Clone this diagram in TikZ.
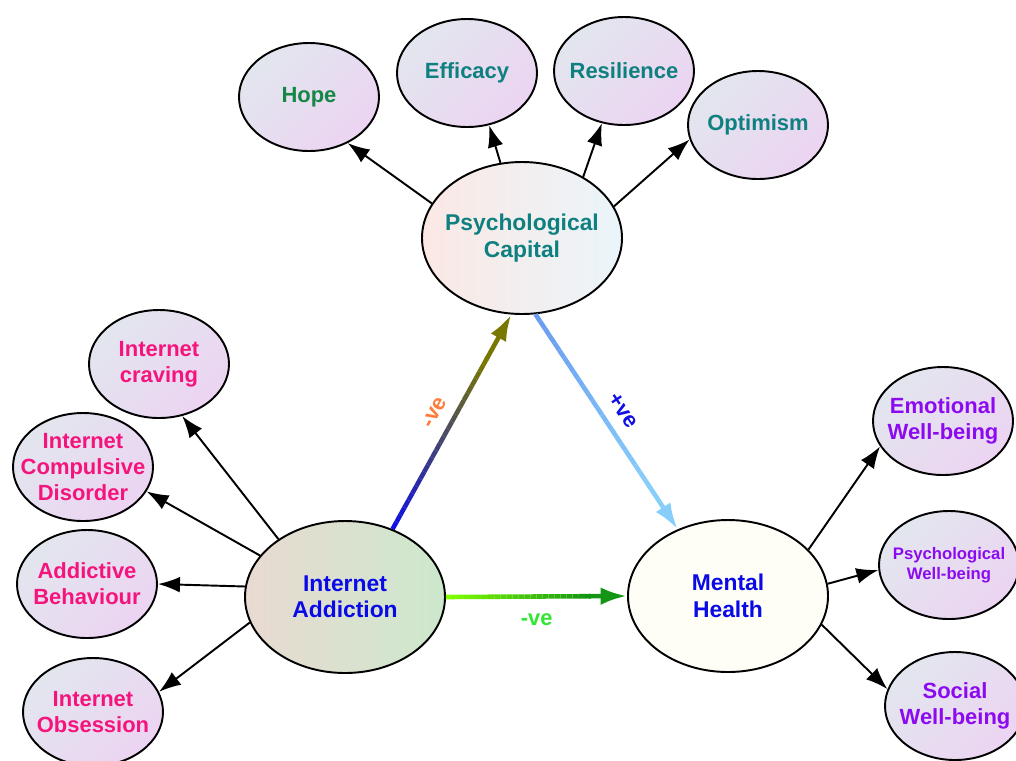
\documentclass[tikz,border=0pt]{standalone}
\usepackage{fontspec}
\setmainfont{Liberation Sans}
\usepackage{tikz}
\usetikzlibrary{shapes.geometric}
\usetikzlibrary{calc}
\usetikzlibrary{arrows.meta}
\definecolor{satgrey}{RGB}{226, 230, 238}
\definecolor{satpink}{RGB}{236, 212, 242}
\definecolor{pcpink}{RGB}{251, 232, 228}
\definecolor{pcblue}{RGB}{234, 245, 250}
\definecolor{iabeige}{RGB}{233, 218, 210}
\definecolor{iagreen}{RGB}{204, 232, 204}
\definecolor{mhwhite}{RGB}{254, 254, 247}
\definecolor{hopegreen}{RGB}{20, 135, 70}
\definecolor{capteal}{RGB}{15, 128, 128}
\definecolor{netpink}{RGB}{245, 20, 125}
\definecolor{hubblue}{RGB}{10, 10, 230}
\definecolor{wellpurple}{RGB}{140, 10, 240}
\definecolor{linkblue}{RGB}{15, 15, 230}
\definecolor{linkolive}{RGB}{120, 120, 0}
\definecolor{skytop}{RGB}{105, 155, 240}
\definecolor{skybot}{RGB}{135, 206, 250}
\definecolor{limeline}{RGB}{128, 255, 0}
\definecolor{darkline}{RGB}{20, 150, 20}
\definecolor{negorange}{RGB}{255, 125, 60}
\definecolor{neggreen}{RGB}{50, 230, 50}
\newcommand{\hubbold}{\bfseries\fontsize{13}{15}\selectfont}
\newcommand{\bigbold}{\bfseries\fontsize{12.5}{14.8}\selectfont}
\newcommand{\smallbold}{\bfseries\fontsize{9.5}{11.5}\selectfont}
% thick connector whose colour runs from #3 to #4
\newcommand{\gradline}[4]{%
    \foreach \k in {0,...,23}{
        \pgfmathtruncatemacro\share{100-\k*100/23}
        \draw[line width=2.6pt, color=#3!\share!#4] ($(#1)!\k/30!(#2)$) -- ($(#1)!\k/30+1/30!(#2)$);
    }
    \draw[line width=2.6pt, color=#4, -{Latex[length=15pt,width=10pt]}] ($(#1)!0.79!(#2)$) -- (#2);
}
\tikzset{
    bubble/.style={ellipse, draw, line width=1.1pt, inner xsep=-8pt, inner ysep=-8pt, align=center, font=\bigbold},
    satellite/.style={bubble, minimum width=2.8cm, minimum height=2.16cm,
                      top color=satgrey, bottom color=satpink, shading angle=45},
    hub/.style={bubble, minimum width=4cm, minimum height=3.04cm, font=\hubbold},
    feeds/.style={line width=1.1pt, -{Latex[length=12.5pt,width=9pt]}},
    effect/.style={font=\bigbold, sloped, midway}
}

\begin{document}
\begin{tikzpicture}
            \useasboundingbox (0, 0) rectangle (20.32, -15.20);
            % Hubs
            \node[hub, left color=pcpink, right color=pcblue, text=capteal]   (pc) at (10.44, -4.76) {Psychological\\Capital};
            \node[hub, left color=iabeige, right color=iagreen, text=hubblue] (ia) at ( 6.90,-11.94) {Internet\\Addiction};
            \node[hub, fill=mhwhite, text=hubblue]                             (mh) at (14.56,-11.92) {Mental\\Health};
            % Psychological capital parts
            \node[satellite, text=hopegreen] (hope)       at ( 6.18, -1.94) {Hope};
            \node[satellite, text=capteal]   (efficacy)   at ( 9.34, -1.46) {Efficacy};
            \node[satellite, text=capteal]   (resilience) at (12.48, -1.42) {Resilience};
            \node[satellite, text=capteal]   (optimism)   at (15.16, -2.50) {Optimism};
            % Internet addiction parts
            \node[satellite, text=netpink] (craving)    at ( 3.18, -7.28) {Internet\\craving};
            \node[satellite, text=netpink] (compulsive) at ( 1.66, -9.34) {Internet\\Compulsive\\Disorder};
            \node[satellite, text=netpink] (behaviour)  at ( 1.74,-11.68) {Addictive\\Behaviour};
            \node[satellite, text=netpink] (obsession)  at ( 1.86,-14.24) {Internet\\Obsession};
            % Mental health parts
            \node[satellite, text=wellpurple]                  (emotional) at (18.86, -8.42) {Emotional\\Well-being};
            \node[satellite, text=wellpurple, font=\smallbold] (psywell)   at (18.98,-11.30) {Psychological\\Well-being};
            \node[satellite, text=wellpurple]                  (social)    at (19.10,-14.12) {Social\\Well-being};
            % Arrows to the parts
            \draw[feeds] (pc.159) -- (hope.310);
            \draw[feeds] (pc.106) -- (efficacy.293);
            \draw[feeds] (pc.45)  -- (resilience.247);
            \draw[feeds] (pc.19)  -- (optimism.192);
            \draw[feeds] (ia.139) -- (craving.294);
            \draw[feeds] (ia.154) -- (compulsive.339);
            \draw[feeds] (ia.174) -- (behaviour.0);
            \draw[feeds] (ia.195) -- (obsession.17);
            \draw[feeds] (mh.30)  -- (emotional.202);
            \draw[feeds] (mh.7)   -- (psywell.184);
            \draw[feeds] (mh.343) -- (social.166);
            % Paths between hubs
            \coordinate (iaout) at (ia.55);
            \coordinate (pcin)  at (pc.262);
            \coordinate (pcout) at (pc.280);
            \coordinate (mhin)  at (mh.127);
            \gradline{iaout}{pcin}{linkblue}{linkolive}
            \gradline{pcout}{mhin}{skytop}{skybot}
            \gradline{ia.east}{mh.west}{limeline}{darkline}
            \path (iaout)   -- (pcin)    node[effect, above=4pt, text=negorange] {-ve};
            \path (pcout)   -- (mhin)    node[effect, above=4pt, text=linkblue]  {+ve};
            \path (ia.east) -- (mh.west) node[effect, below=6pt, text=neggreen]  {-ve};
        \end{tikzpicture}
\end{document}
